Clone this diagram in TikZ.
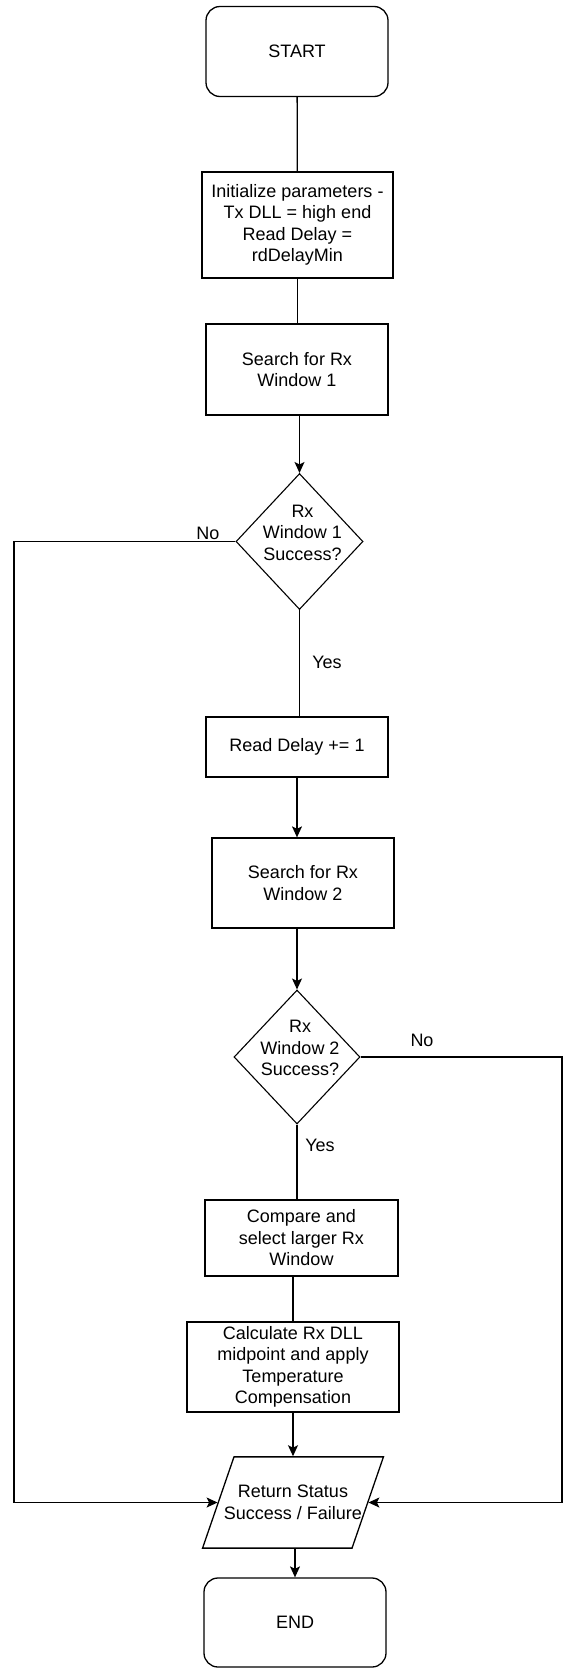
\documentclass[tikz,border=0pt]{standalone}
\usepackage{fontspec}
\setmainfont{Liberation Sans}
\usepackage{tikz}
\usetikzlibrary{shapes.geometric,arrows.meta}

\begin{document}
\begin{tikzpicture}[x=1pt,y=-1pt,font=\fontsize{18}{21.5}\selectfont]
		\tikzstyle{Terminal}	= [rectangle, draw, rounded corners=14pt, line width=1.3pt, minimum width=182pt, minimum height=90pt, inner sep=0pt]
		\tikzstyle{Process}	= [rectangle, draw, line width=1.3pt, align=center, inner sep=0pt, minimum width=182pt]
		\tikzstyle{Decision}	= [diamond, draw, line width=1.1pt, inner sep=0pt, minimum width=127pt, minimum height=136pt]
		\tikzstyle{Output}	= [trapezium, trapezium left angle=71, trapezium right angle=109, draw, line width=1.3pt, align=center, inner xsep=-10pt, inner ysep=28.5pt]
		\tikzstyle{Inside}	= [align=center, inner sep=0pt, xshift=3pt, yshift=9pt]
		\tikzstyle{Tag}		= [inner sep=0pt]
		\tikzstyle{Flow}	= [line width=1.3pt]
		\tikzstyle{Arrow}	= [Flow, -{Stealth[length=11pt,width=10pt,inset=2.5pt]}]

		\useasboundingbox (0,0) rectangle (563,1668);

		\node (start) at (297,51.5) [Terminal] {START};
		\node (init) at (297.5,225) [Process, minimum width=191pt, minimum height=106pt] {Initialize parameters -\\Tx DLL = high end\\Read Delay =\\rdDelayMin};
		\node (search1) at (297,369.5) [Process, minimum height=91pt] {Search for Rx\\Window 1};
		\node (dec1) at (299.5,541.5) [Decision, label={[Inside]center:Rx\\Window 1\\Success?}] {};
		\node (readdelay) at (297,747) [Process, minimum height=60pt] {Read Delay += 1};
		\node (search2) at (303,883) [Process, minimum height=90pt] {Search for Rx\\Window 2};
		\node (dec2) at (297,1057) [Decision, minimum width=126pt, minimum height=134pt, label={[Inside]center:Rx\\Window 2\\Success?}] {};
		\node (compare) at (301.5,1238) [Process, minimum width=193pt, minimum height=76pt] {Compare and\\select larger Rx\\Window};
		\node (calc) at (293,1367) [Process, minimum width=212pt, minimum height=90pt] {Calculate Rx DLL\\midpoint and apply\\Temperature\\Compensation};
		\node (ret) at (293,1502.5) [Output] {Return Status\\Success / Failure};
		\node (end) at (295,1622.5) [Terminal, minimum height=89pt] {END};

		\coordinate (lcorner) at (14,541.5);
		\coordinate (lrail) at (14,1502.5);
		\coordinate (rcorner) at (562,1057);
		\coordinate (rrail) at (562,1502.5);

		\node (no1) at (208,533) [Tag] {No};
		\node (yes1) at (327,662) [Tag] {Yes};
		\node (no2) at (422,1040) [Tag] {No};
		\node (yes2) at (320,1145) [Tag] {Yes};

		\draw (start) to (init) [Flow];
		\draw (init) to (init |- search1.north) [Flow];
		\draw (search1.south -| dec1) to (dec1.north) [Arrow];
		\draw (dec1.south) to (dec1.south |- readdelay.north) [Flow];
		\draw (readdelay) to (readdelay |- search2.north) [Arrow];
		\draw (search2.south -| dec2) to (dec2.north) [Arrow];
		\draw (dec2.south) to (dec2.south |- compare.north) [Flow];
		\draw (compare.south -| calc) to (calc) [Flow];
		\draw (calc) to (calc |- ret.north) [Arrow];
		\draw (ret.south -| end) to (end) [Arrow];
		\draw (dec1.west) -- (lcorner) -- (lrail) -- (ret.left side) [Arrow];
		\draw (dec2.east) -- (rcorner) -- (rrail) -- (ret.right side) [Arrow];
	\end{tikzpicture}
\end{document}
